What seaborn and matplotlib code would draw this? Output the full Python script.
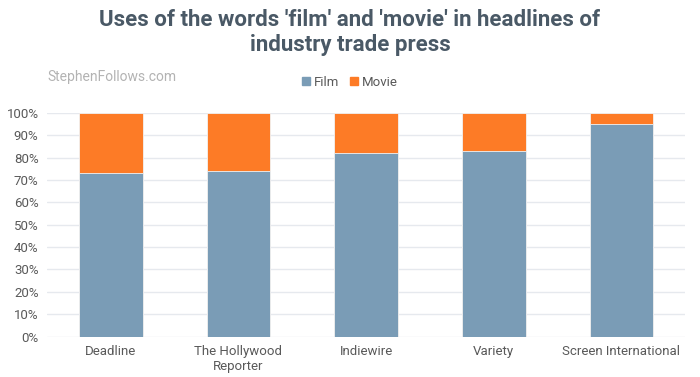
import pandas as pd
import numpy as np
import matplotlib
matplotlib.use('Agg')
import matplotlib.pyplot as plt
import seaborn as sns
from matplotlib.ticker import PercentFormatter
from matplotlib.patches import Patch

# values (share of headlines, %)
outlets = ['Deadline', 'The Hollywood\nReporter', 'Indiewire', 'Variety', 'Screen International']
film_pct = [73, 74, 82, 83, 95]
movie_pct = [27, 26, 18, 17, 5]

film_col = '#7a9cb6'
movie_col = '#fd7b26'
text_col = '#595959'

sns.set_style('white')
plt.rcParams['font.family'] = ['Roboto', 'DejaVu Sans']

df = pd.DataFrame({'outlet': outlets, 'Film': film_pct, 'Movie': movie_pct})
df['total'] = df['Film'] + df['Movie']

fig = plt.figure(figsize=(7, 3.77), dpi=100)
ax = fig.add_axes([0.067, 0.107, 0.912, 0.594])

# stacked: draw totals first (movie colour), then film on top
sns.barplot(data=df, x='outlet', y='total', color=movie_col, width=0.5,
            saturation=1, edgecolor='#f2f2f2', linewidth=0.6, ax=ax)
sns.barplot(data=df, x='outlet', y='Film', color=film_col, width=0.5,
            saturation=1, edgecolor='#f2f2f2', linewidth=0.6, ax=ax)

ax.set_xlim(-0.5, 4.5)
ax.set_ylim(0, 100)
ax.set_yticks(np.arange(0, 101, 10))
ax.yaxis.set_major_formatter(PercentFormatter(decimals=0))
ax.grid(axis='y', color='#e6e9ee', linewidth=1)
ax.set_axisbelow(True)
sns.despine(ax=ax, left=True, bottom=True)
ax.set_xlabel('')
ax.set_ylabel('')
ax.tick_params(axis='both', length=0, labelsize=9.5, colors=text_col, pad=6)

fig.text(0.5, 0.975, "Uses of the words 'film' and 'movie' in headlines of\nindustry trade press",
         ha='center', va='top', fontsize=16, fontweight='bold', color='#4a5966',
         linespacing=1.15)
fig.text(0.068, 0.795, 'StephenFollows.com', ha='left', va='center', fontsize=10,
         color='#b3b3b3')

handles = [Patch(color=film_col, label='Film'), Patch(color=movie_col, label='Movie')]
fig.legend(handles=handles, loc='center', bbox_to_anchor=(0.5, 0.782), ncol=2,
           frameon=False, fontsize=9.5, handlelength=0.6, handleheight=0.6,
           handletextpad=0.3, columnspacing=0.8, labelcolor=text_col)

fig.savefig('out.png', dpi=100)
